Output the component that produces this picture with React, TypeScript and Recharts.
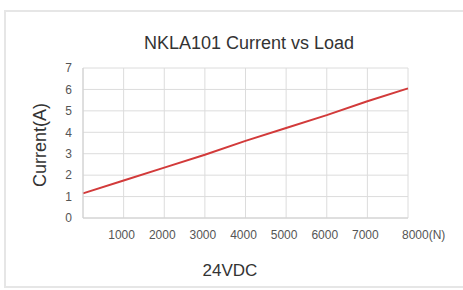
import React from 'react';
import { LineChart, Line, XAxis, YAxis, CartesianGrid } from 'recharts';

const loads = [0, 1000, 2000, 3000, 4000, 5000, 6000, 7000, 8000];
const currents = [1.15, 1.75, 2.35, 2.95, 3.6, 4.2, 4.8, 5.45, 6.05];
const xTicks = [0, 1000, 2000, 3000, 4000, 5000, 6000, 7000, 8000];
const yTicks = [0, 1, 2, 3, 4, 5, 6, 7];
const title = 'NKLA101 Current vs Load';
const yLabel = 'Current(A)';
const xLabel = '24VDC';
const xUnit = '(N)';

const data = loads.map((l, i) => ({ load: l, current: currents[i] }));

const FONT = '"Liberation Sans", Arial, sans-serif';

const XTick = (props: any) => {
  const { x, y, payload } = props;
  const v = payload.value;
  if (v === 0) return null;
  if (v === 8000) {
    return (
      <text x={x - 6} y={y} dy="0.71em" textAnchor="start" fontSize={12} fill="#555" fontFamily={FONT}>
        {`${v}${xUnit}`}
      </text>
    );
  }
  return (
    <text x={x - 2} y={y} dy="0.71em" textAnchor="middle" fontSize={12} fill="#555" fontFamily={FONT}>
      {v}
    </text>
  );
};

export default function App() {
  return (
    <div style={{ position: 'absolute', left: 0, top: 0, width: 463, height: 290, background: '#fff', overflow: 'hidden', fontFamily: FONT }}>
      <div style={{ position: 'absolute', left: 4, top: 10, width: 480, height: 274, border: '2px solid #e6e6e6' }} />
      <LineChart width={463} height={290} data={data} margin={{ top: 68, right: 55, left: 43, bottom: 42 }}>
        <CartesianGrid stroke="#dcdcdc" strokeWidth={1} />
        <XAxis
          dataKey="load"
          type="number"
          domain={[0, 8000]}
          ticks={xTicks}
          interval={0}
          tickLine={false}
          tickSize={0}
          tickMargin={12}
          axisLine={{ stroke: '#d0d0d0' }}
          height={30}
          tick={<XTick />}
        />
        <YAxis
          type="number"
          domain={[0, 7]}
          ticks={yTicks}
          interval={0}
          tickLine={false}
          tickSize={0}
          tickMargin={11}
          axisLine={{ stroke: '#d0d0d0' }}
          width={40}
          tick={{ fontSize: 12, fill: '#555', fontFamily: FONT }}
        />
        <Line
          type="linear"
          dataKey="current"
          stroke="#d23a3a"
          strokeWidth={2}
          dot={false}
          isAnimationActive={false}
        />
      </LineChart>
      <div style={{ position: 'absolute', left: 249, top: 43, transform: 'translate(-50%, -50%)', fontSize: 18, color: '#333', whiteSpace: 'nowrap' }}>
        {title}
      </div>
      <div style={{ position: 'absolute', left: 40, top: 145, transform: 'translate(-50%, -50%) rotate(-90deg)', fontSize: 18, color: '#333', whiteSpace: 'nowrap' }}>
        {yLabel}
      </div>
      <div style={{ position: 'absolute', left: 230, top: 271, transform: 'translate(-50%, -50%)', fontSize: 17, color: '#333', whiteSpace: 'nowrap' }}>
        {xLabel}
      </div>
    </div>
  );
}
